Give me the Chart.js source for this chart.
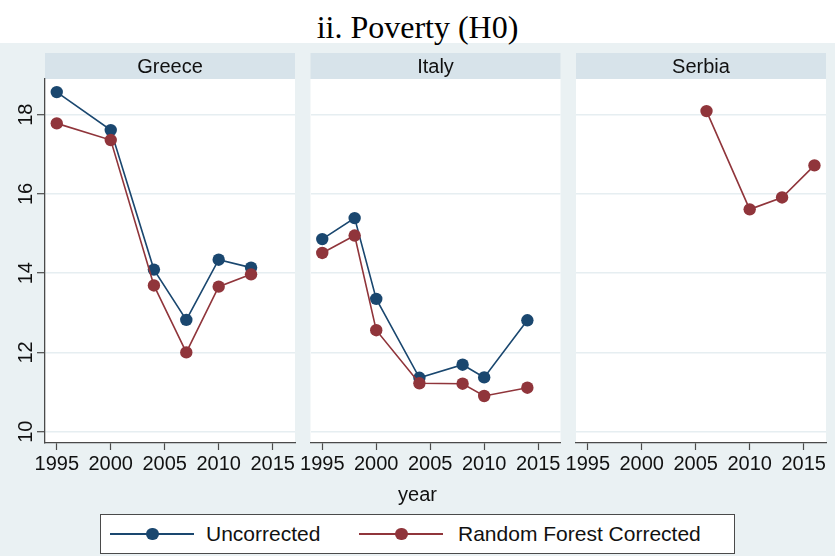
<!DOCTYPE html>
<html>
<head>
<meta charset="utf-8">
<script src="https://cdn.jsdelivr.net/npm/chart.js@4/dist/chart.umd.min.js"></script>
<style>
  html, body { margin: 0; padding: 0; background: #ffffff; }
  #wrap { position: relative; width: 835px; height: 556px; overflow: hidden; background: #ffffff; }
  #region { position: absolute; left: 0; top: 43px; width: 835px; height: 513px; background: #eaf1f3; }
  #title { position: absolute; left: 0; top: 0; width: 835px; height: 43px; line-height: 55px;
           text-align: center; font-family: "Liberation Serif", "Times New Roman", serif; font-size: 32px; color: #000; }
  canvas.panel { position: absolute; left: 0; top: 0; }
  #xtitle { position: absolute; left: 0; top: 483px; width: 835px; text-align: center;
            font-family: "Liberation Sans", Arial, sans-serif; font-size: 20px; color: #111; }
  #legend { position: absolute; left: 100px; top: 514px; width: 633px; height: 38px;
            background: #fff; border: 1.5px solid #4a4a4a; font-family: "Liberation Sans", Arial, sans-serif;
            font-size: 21px; color: #111; }
  .item { position: absolute; top: 0; height: 38px; line-height: 38px; white-space: nowrap; }
  .sym { position: absolute; top: 18px; width: 84px; height: 1.6px; }
  .dot { position: absolute; top: -5.5px; left: 36px; width: 12.6px; height: 12.6px; border-radius: 50%; }
  .txt { position: absolute; top: 0; }
</style>
</head>
<body>
<div id="wrap">
  <div id="region"></div>
  <div id="title">ii. Poverty (H0)</div>
  <canvas class="panel" id="c0" width="835" height="556"></canvas>
  <canvas class="panel" id="c1" width="835" height="556"></canvas>
  <canvas class="panel" id="c2" width="835" height="556"></canvas>
  <div id="xtitle">year</div>
  <div id="legend"></div>
</div>
<script>
// Poverty headcount (H0) by survey year, per country
const countries = ['Greece', 'Italy', 'Serbia'];
const seriesNames = ['Uncorrected', 'Random Forest Corrected'];
const seriesColors = ['#1a476f', '#90353b'];

const greeceYears = [1995, 2000, 2004, 2007, 2010, 2013];
const greeceUncorrected = [18.57, 17.61, 14.09, 12.82, 14.34, 14.14];
const greeceCorrected = [17.78, 17.36, 13.69, 12.00, 13.66, 13.97];

const italyYears = [1995, 1998, 2000, 2004, 2008, 2010, 2014];
const italyUncorrected = [14.86, 15.39, 13.35, 11.36, 11.69, 11.37, 12.81];
const italyCorrected = [14.51, 14.95, 12.56, 11.22, 11.21, 10.90, 11.11];

const serbiaYears = [2006, 2010, 2013, 2016];
const serbiaUncorrected = [];
const serbiaCorrected = [18.09, 15.61, 15.91, 16.72];

const xTickValues = [1995, 2000, 2005, 2010, 2015];
const xTickLabels = ['1995', '2000', '2005', '2010', '2015'];
const yTickValues = [10, 12, 14, 16, 18];
const yTickLabels = ['10', '12', '14', '16', '18'];

const panelYears = [greeceYears, italyYears, serbiaYears];
const panelUncorrected = [greeceUncorrected, italyUncorrected, serbiaUncorrected];
const panelCorrected = [greeceCorrected, italyCorrected, serbiaCorrected];

// layout of the three facets
const W = 835, H = 556;
const panelLeft = [45, 310.5, 576];
const panelWidth = 250;
const plotTop = 79, plotBottom = 443;
const stripTop = 53, stripHeight = 26;
const xAxisHeight = 36;
const sans = '"Liberation Sans", Arial, sans-serif';
const axisColor = '#4a4a4a';
const gridColor = '#e6eef1';

const pairs = (xs, ys) => ys.map((y, i) => ({ x: xs[i], y: y }));

const facetPlugin = {
  id: 'facet',
  beforeDraw(chart, args, opts) {
    const { ctx, chartArea } = chart;
    ctx.save();
    ctx.fillStyle = '#ffffff';
    ctx.fillRect(chartArea.left, chartArea.top, chartArea.right - chartArea.left, chartArea.bottom - chartArea.top);
    ctx.fillStyle = '#d7e3ea';
    ctx.fillRect(chartArea.left, stripTop, chartArea.right - chartArea.left, stripHeight);
    ctx.fillStyle = '#111';
    ctx.font = '20px ' + sans;
    ctx.textAlign = 'center';
    ctx.textBaseline = 'middle';
    ctx.fillText(opts.label, (chartArea.left + chartArea.right) / 2, stripTop + stripHeight / 2 + 1);
    ctx.restore();
  },
  afterDraw(chart, args, opts) {
    if (!opts.yLabels) return;
    const { ctx } = chart;
    const ys = chart.scales.y;
    ctx.save();
    ctx.fillStyle = '#111';
    ctx.font = '20px ' + sans;
    ctx.textAlign = 'center';
    ctx.textBaseline = 'middle';
    yTickValues.forEach((v, i) => {
      const py = ys.getPixelForValue(v);
      ctx.save();
      ctx.translate(26, py);
      ctx.rotate(-Math.PI / 2);
      ctx.fillText(yTickLabels[i], 0, 0);
      ctx.restore();
    });
    ctx.restore();
  }
};

function makePanel(k) {
  const first = k === 0;
  const yAxisWidth = first ? 45 : 0;
  const datasets = [];
  if (panelUncorrected[k].length) {
    datasets.push({
      label: seriesNames[0],
      data: pairs(panelYears[k], panelUncorrected[k]),
      borderColor: seriesColors[0], backgroundColor: seriesColors[0],
      borderWidth: 1.6, pointRadius: 6.2, pointBorderWidth: 0, order: 2
    });
  }
  datasets.push({
    label: seriesNames[1],
    data: pairs(panelYears[k], panelCorrected[k]),
    borderColor: seriesColors[1], backgroundColor: seriesColors[1],
    borderWidth: 1.6, pointRadius: 6.2, pointBorderWidth: 0, order: 1
  });

  new Chart(document.getElementById('c' + k), {
    type: 'line',
    data: { datasets },
    plugins: [facetPlugin],
    options: {
      responsive: false,
      animation: false,
      events: [],
      layout: {
        padding: {
          left: panelLeft[k] - yAxisWidth,
          right: W - panelLeft[k] - panelWidth,
          top: plotTop,
          bottom: H - plotBottom - xAxisHeight
        }
      },
      plugins: {
        legend: { display: false },
        tooltip: { enabled: false },
        facet: { label: countries[k], yLabels: first }
      },
      scales: {
        x: {
          type: 'linear',
          min: 1993.91, max: 2017.07,
          afterBuildTicks(scale) { scale.ticks = xTickValues.map(v => ({ value: v })); },
          afterFit(scale) { scale.height = xAxisHeight; },
          ticks: {
            callback: (v, i) => xTickLabels[i],
            color: '#111', font: { family: sans, size: 20 }, padding: 2,
            maxRotation: 0, autoSkip: false
          },
          grid: { drawOnChartArea: false, drawTicks: true, tickLength: 7, tickColor: axisColor, tickWidth: 1.2 },
          border: { display: true, color: axisColor, width: 1.3 }
        },
        y: {
          type: 'linear',
          min: 9.714, max: 18.90,
          afterBuildTicks(scale) { scale.ticks = yTickValues.map(v => ({ value: v })); },
          afterFit(scale) { scale.width = yAxisWidth; },
          ticks: { display: false },
          grid: { color: gridColor, lineWidth: 1.4, drawTicks: first, tickLength: 8, tickColor: axisColor, tickWidth: 1.2 },
          border: { display: first, color: axisColor, width: 1.3 }
        }
      }
    }
  });
}

[0, 1, 2].forEach(makePanel);

// legend across the bottom of the figure
const legend = document.getElementById('legend');
const itemLeft = [9, 258];
const textLeft = [105, 357];
seriesNames.forEach((name, i) => {
  const item = document.createElement('div');
  item.className = 'item';
  item.style.left = itemLeft[i] + 'px';
  const sym = document.createElement('div');
  sym.className = 'sym';
  sym.style.background = seriesColors[i];
  const dot = document.createElement('div');
  dot.className = 'dot';
  dot.style.background = seriesColors[i];
  sym.appendChild(dot);
  const txt = document.createElement('div');
  txt.className = 'txt';
  txt.style.left = (textLeft[i] - itemLeft[i]) + 'px';
  txt.textContent = name;
  item.appendChild(sym);
  item.appendChild(txt);
  legend.appendChild(item);
});
</script>
</body>
</html>
